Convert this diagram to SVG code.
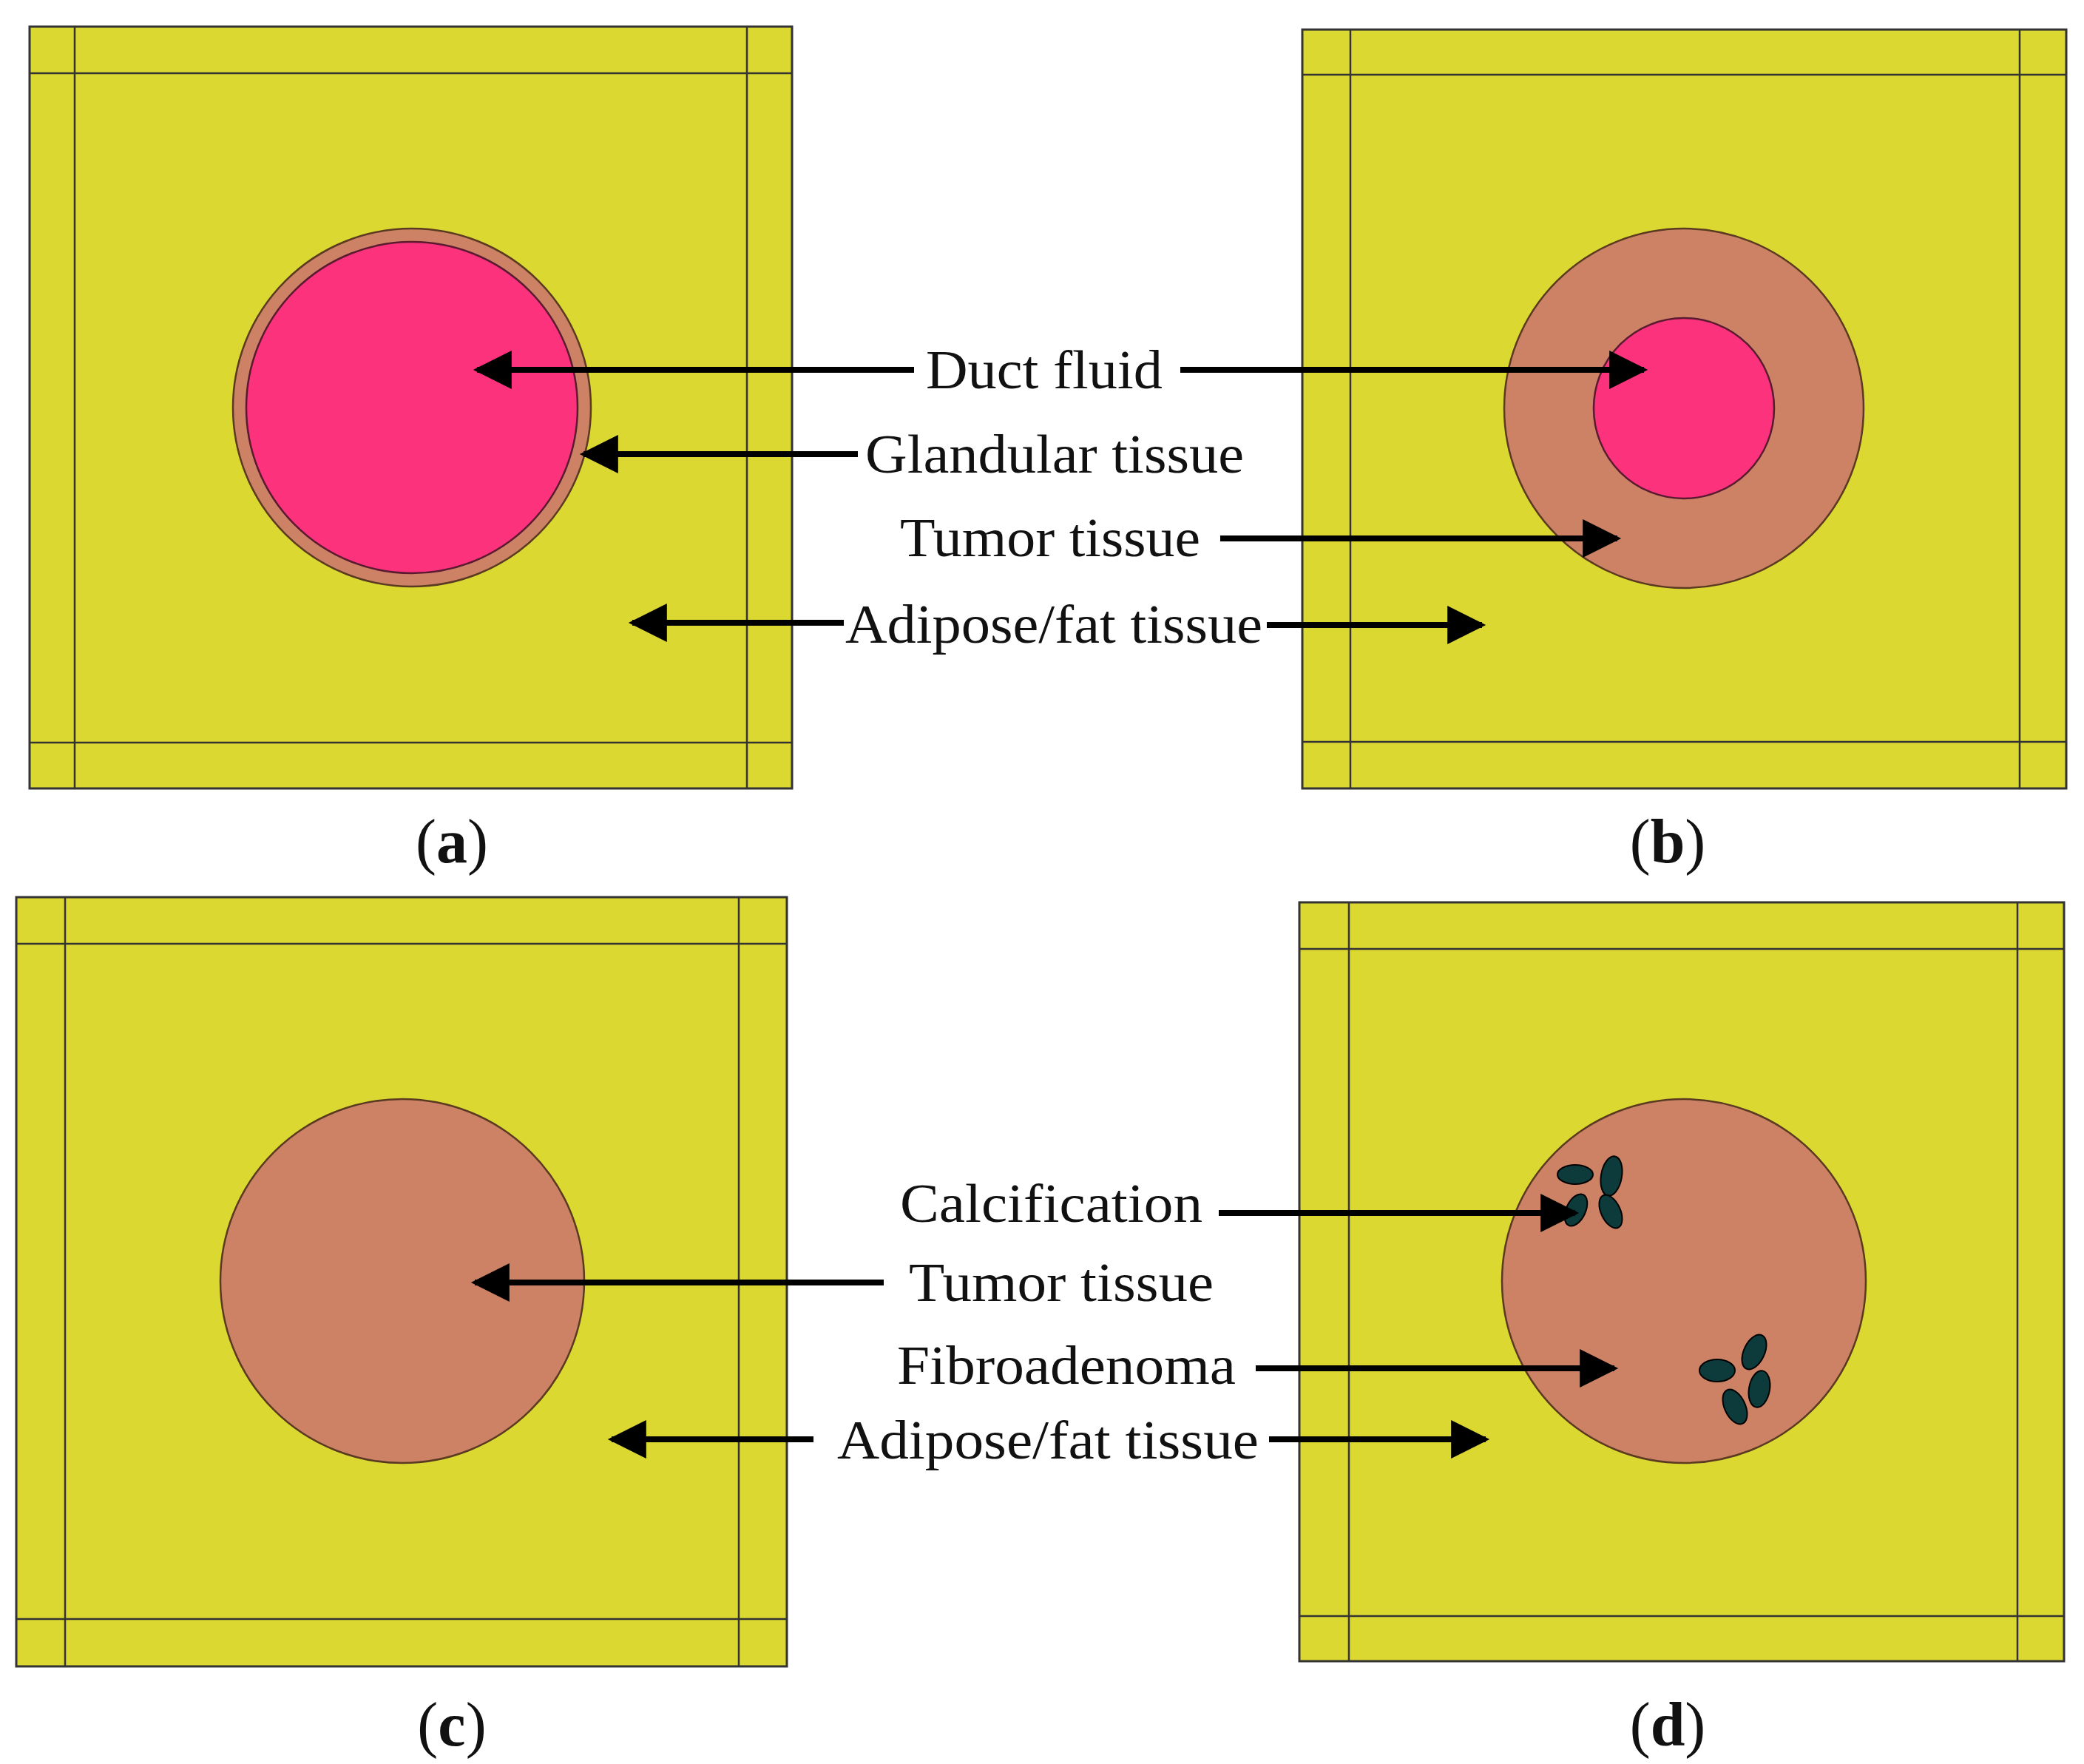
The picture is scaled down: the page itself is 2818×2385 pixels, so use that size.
<svg xmlns="http://www.w3.org/2000/svg" width="2818" height="2385" viewBox="0 0 2818 2385">
<style>
.box{fill:#dcd832;stroke:#333;stroke-width:3}
.ln{stroke:#333;stroke-width:2.5}
.tum{fill:#cd8265;stroke:#5a3a20;stroke-width:2.5}
.duct{fill:#fc327d;stroke:#5a1a30;stroke-width:2.5}
.cal{fill:#0d3a3a;stroke:#000;stroke-width:2}
.arr{stroke:#000;stroke-width:8;fill:none;marker-end:url(#ah)}
text{font-family:"Liberation Serif",serif;font-size:74px;fill:#111}
.cap{text-anchor:middle;font-size:84px}
</style>
<defs>
<marker id="ah" viewBox="0 0 10 10" refX="9" refY="5" markerWidth="7.5" markerHeight="6.5" orient="auto" markerUnits="strokeWidth">
<path d="M0,0 L10,5 L0,10 z" fill="#000"/></marker>
</defs>
<rect width="2818" height="2385" fill="#fff"/>
<g id="panel-a">
<rect class="box" x="40" y="36" width="1031" height="1030"/>
<path class="ln" d="M101,36V1066M1010,36V1066M40,99H1071M40,1004H1071"/>
<circle class="tum" cx="557" cy="551" r="242"/>
<circle class="duct" cx="557" cy="551" r="224"/>
</g>
<g id="panel-b">
<rect class="box" x="1761" y="40" width="1033" height="1026"/>
<path class="ln" d="M1826,40V1066M2731,40V1066M1761,101H2794M1761,1003H2794"/>
<circle class="tum" cx="2277" cy="552" r="243"/>
<circle class="duct" cx="2277" cy="552" r="122"/>
</g>
<g id="panel-c">
<rect class="box" x="22" y="1213" width="1042" height="1040"/>
<path class="ln" d="M88,1213V2253M999,1213V2253M22,1276H1064M22,2189H1064"/>
<circle class="tum" cx="544" cy="1732" r="246"/>
</g>
<g id="panel-d">
<rect class="box" x="1757" y="1220" width="1034" height="1026"/>
<path class="ln" d="M1824,1220V2246M2728,1220V2246M1757,1283H2791M1757,2185H2791"/>
<circle class="tum" cx="2277" cy="1732" r="246"/>
<ellipse class="cal" cx="2130" cy="1588" rx="24" ry="13"/>
<ellipse class="cal" cx="2179" cy="1590" rx="14" ry="27" transform="rotate(10 2179 1590)"/>
<ellipse class="cal" cx="2131" cy="1636" rx="13" ry="23" transform="rotate(25 2131 1636)"/>
<ellipse class="cal" cx="2178" cy="1638" rx="13" ry="24" transform="rotate(-25 2178 1638)"/>
<ellipse class="cal" cx="2322" cy="1853" rx="24" ry="15"/>
<ellipse class="cal" cx="2372" cy="1828" rx="14" ry="25" transform="rotate(25 2372 1828)"/>
<ellipse class="cal" cx="2379" cy="1878" rx="14" ry="25" transform="rotate(10 2379 1878)"/>
<ellipse class="cal" cx="2346" cy="1902" rx="14" ry="25" transform="rotate(-25 2346 1902)"/>
</g>
<g id="connectors">
<path class="arr" d="M1236,500H645"/>
<path class="arr" d="M1596,500H2223"/>
<path class="arr" d="M1160,614H789"/>
<path class="arr" d="M1650,728H2187"/>
<path class="arr" d="M1141,842H855"/>
<path class="arr" d="M1713,845H2004"/>
<path class="arr" d="M1648,1640H2130"/>
<path class="arr" d="M1195,1734H642"/>
<path class="arr" d="M1698,1850H2183"/>
<path class="arr" d="M1100,1946H827"/>
<path class="arr" d="M1716,1946H2009"/>
</g>
<g id="labels">
<text x="1252" y="525" textLength="320" lengthAdjust="spacingAndGlyphs">Duct fluid</text>
<text x="1170" y="639" textLength="512" lengthAdjust="spacingAndGlyphs">Glandular tissue</text>
<text x="1217" y="752" textLength="406" lengthAdjust="spacingAndGlyphs">Tumor tissue</text>
<text x="1143" y="869" textLength="564" lengthAdjust="spacingAndGlyphs">Adipose/fat tissue</text>
<text x="1217" y="1652" textLength="409" lengthAdjust="spacingAndGlyphs">Calcification</text>
<text x="1229" y="1759" textLength="412" lengthAdjust="spacingAndGlyphs">Tumor tissue</text>
<text x="1213" y="1871" textLength="458" lengthAdjust="spacingAndGlyphs">Fibroadenoma</text>
<text x="1132" y="1972" textLength="570" lengthAdjust="spacingAndGlyphs">Adipose/fat tissue</text>
<text class="cap" x="611" y="1166">(<tspan font-weight="bold">a</tspan>)</text>
<text class="cap" x="2255" y="1166">(<tspan font-weight="bold">b</tspan>)</text>
<text class="cap" x="611" y="2360">(<tspan font-weight="bold">c</tspan>)</text>
<text class="cap" x="2255" y="2360">(<tspan font-weight="bold">d</tspan>)</text>
</g>
</svg>
